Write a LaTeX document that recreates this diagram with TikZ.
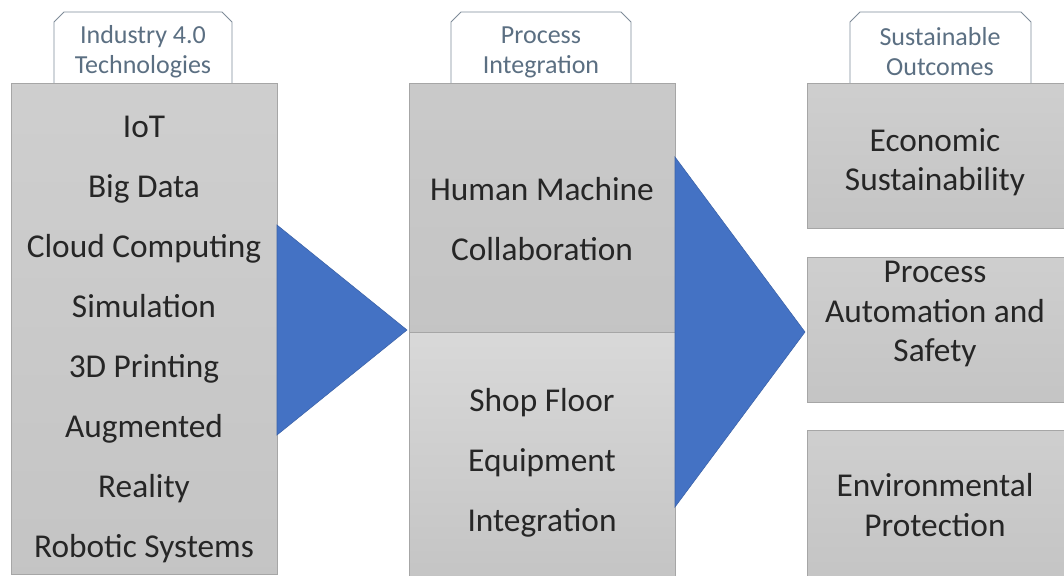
\documentclass[tikz,border=0pt]{standalone}
\usepackage{fontspec}
\setmainfont{Carlito}
\definecolor{triblue}{HTML}{4472C4}
\definecolor{boxline}{HTML}{A6A6A6}
\definecolor{tabline}{HTML}{7F8C99}
\definecolor{tabtext}{HTML}{5B6F82}
\begin{document}
\begin{tikzpicture}[x=0.75pt,y=-0.75pt,
  graybox/.style={draw=boxline,line width=0.6pt,top color=#1,bottom color=black!23},
  graybox/.default={black!19},
  tabbox/.style={draw=tabline,line width=0.6pt,fill=white},
  tabtxt/.style={text=tabtext,align=center,font=\fontsize{19.5}{22.5}\selectfont,inner sep=0pt},
  maintxt/.style={text=black!85,align=center,font=\fontsize{25}{45}\selectfont,inner sep=0pt},
  outtxt/.style={text=black!85,align=center,font=\fontsize{25}{29.5}\selectfont,inner sep=0pt},
  arrowtri/.style={fill=triblue,draw=triblue!85!black,line width=0.4pt}]
\useasboundingbox (0,0) rectangle (1064,575);
\fill[white] (0,0) rectangle (1064,575);

% named corners
\coordinate (LTR) at (277,83);
\coordinate (LBR) at (277,574);
\coordinate (MTL) at (409,83);
\coordinate (MTR) at (675,83);
\coordinate (MMID) at (409,332);

% tabs
\draw[tabbox] (54,83) -- (54,22) -- (64,12) -- (222,12) -- (232,22) -- (232,83);
\draw[tabbox] (451,83) -- (451,22) -- (461,12) -- (621,12) -- (631,22) -- (631,83);
\draw[tabbox] (850,83) -- (850,22) -- (860,12) -- (1021,12) -- (1031,22) -- (1031,83);
\node[tabtxt] (tab1) at (143,52) {Industry 4.0\\Technologies};
\node[tabtxt] (tab2) at (541,52) {Process\\Integration};
\node[tabtxt] (tab3) at (940,52) {Sustainable\\Outcomes};

% boxes
\path[graybox] (11,83) rectangle (277,574);
\path[graybox=black!21] (409,83) rectangle (675,332);
\path[graybox=black!15] (409,332) rectangle (675,576);
\path[graybox] (807,83) rectangle (1068,228);
\path[graybox] (807,257) rectangle (1068,402);
\path[graybox] (807,430) rectangle (1068,578);

% triangles
\path[arrowtri] (277,225) -- (407,330) -- (277,435) -- cycle;
\path[arrowtri] (675,157) -- (805,332) -- (675,507) -- cycle;

% texts
\node[maintxt] (tech) at (144,339) {IoT\\Big Data\\Cloud Computing\\Simulation\\3D Printing\\Augmented\\Reality\\Robotic Systems};
\node[maintxt] (hmc) at (542,219) {Human Machine\\Collaboration};
\node[maintxt] (sfe) at (542,463) {Shop Floor\\Equipment\\Integration};
\node[outtxt] (econ) at (935,162) {Economic\\Sustainability};
\node[outtxt] (proc) at (935,314) {Process\\Automation and\\Safety};
\node[outtxt] (env) at (935,505) {Environmental\\Protection};
\end{tikzpicture}
\end{document}
